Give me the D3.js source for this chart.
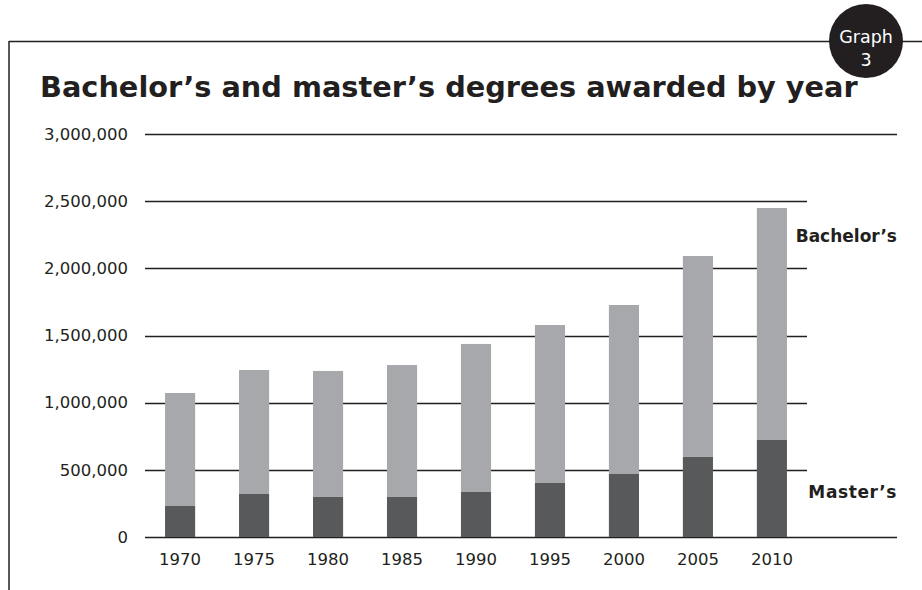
<!DOCTYPE html>
<html>
<head>
<meta charset="utf-8">
<script src="https://cdnjs.cloudflare.com/ajax/libs/d3/7.8.5/d3.min.js"></script>
<style>
  body { margin: 0; background: #fff; }
  svg { display: block; }
  text { font-family: "DejaVu Sans", sans-serif; fill: #231f20; }
</style>
</head>
<body>
<svg id="chart" width="922" height="590"></svg>
<script>
// values
var years = ["1970", "1975", "1980", "1985", "1990", "1995", "2000", "2005", "2010"];
var masters = [231000, 320000, 298000, 298000, 335000, 402000, 469000, 596000, 722000];
var bachelors = [841000, 923000, 938000, 982000, 1102000, 1176000, 1258000, 1496000, 1727000];
var yTicks = [0, 500000, 1000000, 1500000, 2000000, 2500000, 3000000];

var svg = d3.select("#chart");

// table for the stack layout
var rows = years.map(function(y, i) {
	return { year: y, masters: masters[i], bachelors: bachelors[i] };
});
var series = d3.stack().keys(["masters", "bachelors"])(rows);

var x = d3.scaleBand().domain(years).range([145, 807])
	.paddingInner(0.593).paddingOuter(0.271);
var y = d3.scaleLinear().domain([0, 3000000]).range([537, 134]);

// frame: top rule + left rule
svg.append("line").attr("x1", 9).attr("x2", 922).attr("y1", 41.5).attr("y2", 41.5)
	.attr("stroke", "#231f20").attr("stroke-width", 1.5);
svg.append("line").attr("x1", 9).attr("x2", 9).attr("y1", 41).attr("y2", 590)
	.attr("stroke", "#231f20").attr("stroke-width", 1.5);

// badge
var badge = svg.append("g").attr("transform", "translate(866,41)");
badge.append("circle").attr("r", 37).attr("fill", "#231f20");
badge.append("text").attr("text-anchor", "middle").attr("y", 2)
	.style("fill", "#fff").style("font-size", "17.5px").text("Graph");
badge.append("text").attr("text-anchor", "middle").attr("y", 25)
	.style("fill", "#fff").style("font-size", "17.5px").text("3");

// title
var title = svg.append("text").attr("x", 40).attr("y", 97)
	.style("font-size", "26px").style("font-weight", "bold")
	.text("Bachelor\u2019s and master\u2019s degrees awarded by year");
var tw = title.node().getComputedTextLength();
title.style("font-size", (26 * 818 / tw) + "px");

// gridlines, the outer two run further right
svg.append("g").selectAll("line").data(yTicks).join("line")
	.attr("x1", 145)
	.attr("x2", function(d) { return (d === 0 || d === 3000000) ? 897 : 807; })
	.attr("y1", function(d) { return Math.round(y(d)) + 0.5; })
	.attr("y2", function(d) { return Math.round(y(d)) + 0.5; })
	.attr("stroke", "#231f20").attr("stroke-width", 1.3);

// bars
var colors = { masters: "#58595b", bachelors: "#a7a8ab" };
svg.append("g").selectAll("g").data(series).join("g")
	.attr("fill", function(s) { return colors[s.key]; })
	.selectAll("rect").data(function(s) { return s; }).join("rect")
	.attr("x", function(d) { return x(d.data.year); })
	.attr("width", x.bandwidth())
	.attr("y", function(d) { return y(d[1]); })
	.attr("height", function(d) { return y(d[0]) - y(d[1]); });

// axes (labels only)
var yAxis = svg.append("g").attr("transform", "translate(128,0)")
	.call(d3.axisLeft(y).tickValues(yTicks).tickSize(0).tickPadding(0)
		.tickFormat(d3.format(",")));
var xAxis = svg.append("g").attr("transform", "translate(0,547)")
	.call(d3.axisBottom(x).tickSize(0).tickPadding(0));
[yAxis, xAxis].forEach(function(a) {
	a.select(".domain").remove();
	a.selectAll("text").style("font-family", "DejaVu Sans, sans-serif")
		.style("font-size", "16.5px").style("fill", "#231f20");
});
xAxis.selectAll("text").attr("dy", "1.1em");

// series labels
svg.append("text").attr("x", 897).attr("y", 242).attr("text-anchor", "end")
	.style("font-size", "17px").style("font-weight", "bold").text("Bachelor\u2019s");
svg.append("text").attr("x", 897).attr("y", 498).attr("text-anchor", "end")
	.style("font-size", "17px").style("font-weight", "bold").style("letter-spacing", "0.6px")
	.text("Master\u2019s");
</script>
</body>
</html>
